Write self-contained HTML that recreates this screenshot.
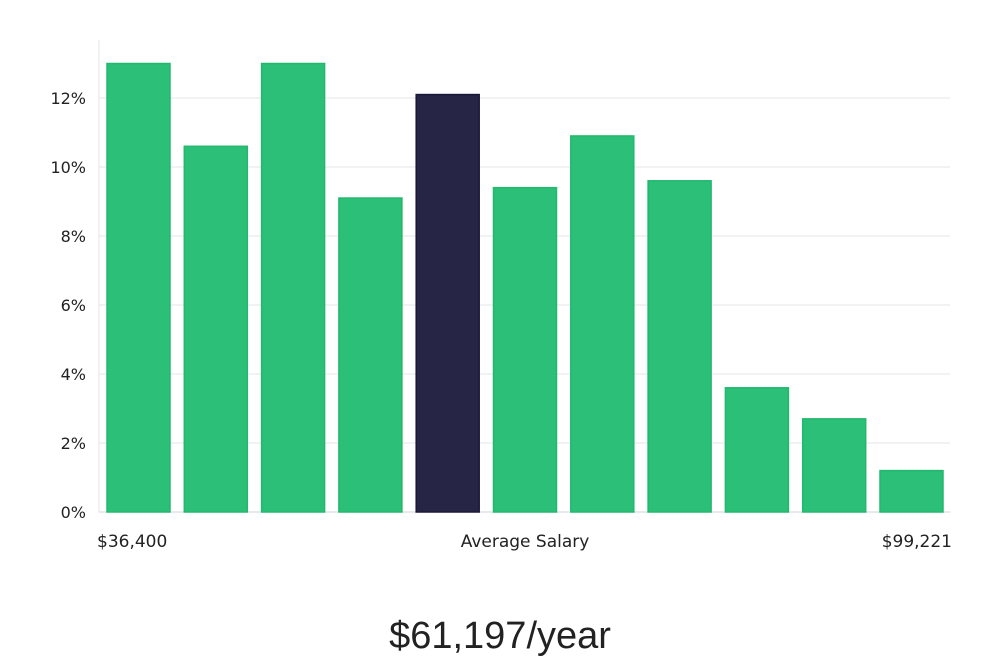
<!DOCTYPE html>
<html><head><meta charset="utf-8">
<style>
html,body{margin:0;padding:0;background:#fff;}
body{width:1000px;height:660px;overflow:hidden;font-family:"DejaVu Sans","Liberation Sans",sans-serif;}
</style></head>
<body>
<svg id="chart" width="1000" height="660" xmlns="http://www.w3.org/2000/svg"></svg>
<script>
const categories = ["b1","b2","b3","b4","b5","b6","b7","b8","b9","b10","b11"];
const values = [13.0,10.6,13.0,9.1,12.1,9.4,10.9,9.6,3.6,2.7,1.2];
const highlightIndex = 4;
const yTicks = [0,2,4,6,8,10,12];
const xLabels = ["$36,400","Average Salary","$99,221"];
const headline = "$61,197/year";

const NS="http://www.w3.org/2000/svg";
const svg=document.getElementById('chart');
const x0=99,x1=950,y0=512,pxPerUnit=34.5;
function yScale(v){return y0-v*pxPerUnit;}
const step=77.3,bw=63,firstX=107;
function xScale(i){return firstX+i*step;}
function mk(tag,attrs){const e=document.createElementNS(NS,tag);for(const k in attrs)e.setAttribute(k,attrs[k]);svg.appendChild(e);return e;}

yTicks.forEach(t=>{
  const g=mk('line',{x1:x0,x2:x1,y1:yScale(t),y2:yScale(t),stroke:t===0?'#cfd3d8':'#e3e5e8','stroke-width':1});
  
  
  const tx=mk('text',{x:86,y:yScale(t)+6,'text-anchor':'end','font-size':16,fill:'#222'});
  tx.textContent=t+'%';
  
  
});
const ax=mk('line',{x1:x0,x2:x0,y1:40,y2:y0,stroke:'#e3e5e8','stroke-width':1});



values.forEach((v,i)=>{
  const hl=i===highlightIndex;
  const r=mk('rect',{x:xScale(i),y:yScale(v),width:bw,height:y0-yScale(v),fill:hl?'#272546':'#2bbf77',stroke:hl?'#1a1838':'#22b86d','stroke-width':1.5});
  
  
});

const lx=[{x:97,a:'start'},{x:525,a:'middle'},{x:952,a:'end'}];
xLabels.forEach((l,i)=>{
  const t=mk('text',{x:lx[i].x,y:547,'text-anchor':lx[i].a,'font-size':17,fill:'#222'});
  t.textContent=l;
  
  
});
const h=mk('text',{x:500,y:648,'text-anchor':'middle','font-size':38,fill:'#222','font-weight':300,'font-family':'"Liberation Sans",sans-serif'});
h.textContent=headline;


</script>
</body></html>
